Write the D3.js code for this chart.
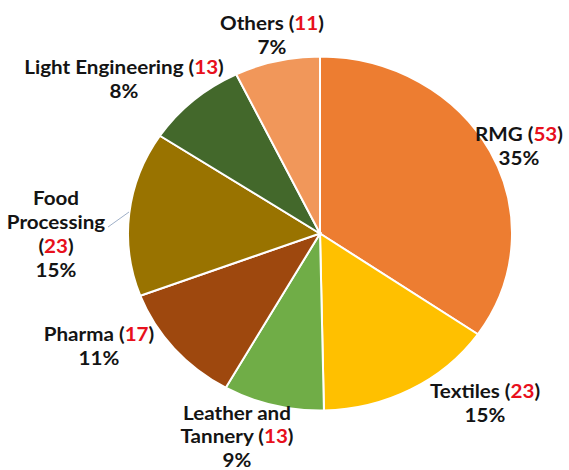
<!DOCTYPE html>
<html>
<head>
<meta charset="utf-8">
<script src="https://cdn.jsdelivr.net/npm/d3@7"></script>
<style>
  html, body { margin: 0; padding: 0; background: #ffffff; }
  svg { display: block; }
  text { font-family: Lato, "Open Sans", sans-serif; font-weight: 700; font-size: 19px; fill: #141414; }
  .num { fill: #e8101c; }
</style>
</head>
<body>
<script>
// Sectors and number of firms in each
const categories = ["RMG", "Textiles", "Leather and Tannery", "Pharma", "Food Processing", "Light Engineering", "Others"];
const counts = [53, 23, 13, 17, 23, 13, 11];
const percentLabels = ["35%", "15%", "9%", "11%", "15%", "8%", "7%"];
const colors = ["#ED7D31", "#FFC000", "#70AD47", "#9E480E", "#997300", "#43682B", "#F1975A"];

// Label lines per sector: text before the count, and whether the count follows on that line
const labelLines = [
  [["RMG ", true]],
  [["Textiles ", true]],
  [["Leather and", false], ["Tannery ", true]],
  [["Pharma ", true]],
  [["Food", false], ["Processing", false], ["", true]],
  [["Light Engineering ", true]],
  [["Others ", true]]
];
// Label anchor (centre of first line) for each sector
const labelPos = [[519, 133], [485, 390], [237, 412], [99, 333], [56, 197], [124, 66], [272, 22]];
// Line spacing per label block
const lineSpacing = [24, 24, 23.5, 24, 24, 24, 24];

const W = 569, H = 470;
const cx = 320, cy = 233.5, ry = 177, rx = 192;
const sx = rx / ry;

const svg = d3.select("body").append("svg").attr("width", W).attr("height", H);

const pie = d3.pie().sort(null).value(d => d);
const arcs = pie(counts);
const arc = d3.arc().innerRadius(0).outerRadius(ry);

const g = svg.append("g")
  .attr("transform", `translate(${cx},${cy}) scale(${sx},1)`);

g.selectAll("path")
  .data(arcs)
  .join("path")
  .attr("d", arc)
  .attr("fill", (d, i) => colors[i])
  .attr("stroke", "#ffffff")
  .attr("stroke-width", 2)
  .attr("vector-effect", "non-scaling-stroke");

// Leader line for the Food Processing label
svg.append("line")
  .attr("x1", 108).attr("y1", 227)
  .attr("x2", 129).attr("y2", 212)
  .attr("stroke", "#9fb0c8").attr("stroke-width", 1);

function addLine(x, y) {
  return svg.append("g")
    .attr("transform", `translate(${x},${y}) scale(${sx},1)`)
    .append("text")
    .attr("text-anchor", "middle")
    .attr("dominant-baseline", "central");
}

labelPos.forEach((p, i) => {
  const lines = labelLines[i];
  const lh = lineSpacing[i];
  lines.forEach((ln, k) => {
    const t = addLine(p[0], p[1] + k * lh);
    if (ln[0]) t.append("tspan").text(ln[0]);
    if (ln[1]) {
      t.append("tspan").text("(");
      t.append("tspan").attr("class", "num").text(counts[i]);
      t.append("tspan").text(")");
    }
  });
  addLine(p[0], p[1] + lines.length * lh).text(percentLabels[i]);
});
</script>
</body>
</html>
